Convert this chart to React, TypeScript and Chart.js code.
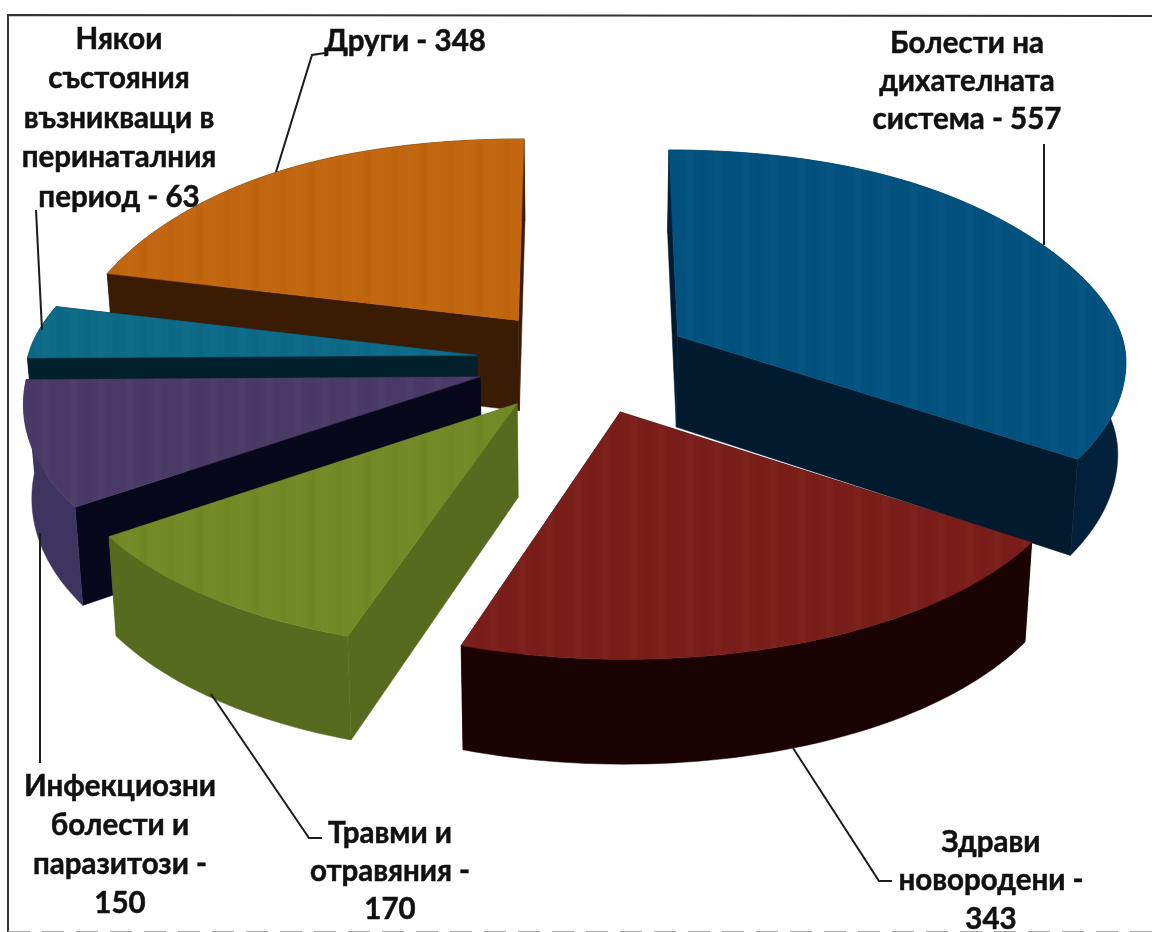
import React, { useEffect, useRef } from "react";
import { Chart, registerables } from "chart.js";

Chart.register(...registerables);

const categories = [
  "Болести на\nдихателната\nсистема",
  "Здрави\nновородени",
  "Травми и\nотравяния",
  "Инфекциозни\nболести и\nпаразитози",
  "Някои\nсъстояния\nвъзникващи в\nперинаталния\nпериод",
  "Други",
];
const values = [557, 343, 170, 150, 63, 348];
const topColors = ["#02527F", "#7A1E1A", "#738A27", "#4A3B66", "#0D6A88", "#C2660F"];
const cutColors = ["#021A2E", "#1A0302", "#566B1E", "#08081C", "#02202C", "#3A1C04"];
const outerColors = ["#03203A", "#1A0302", "#566B1E", "#3D3560", "#02202C", "#3A1C04"];

const labelCenters = [
  [967, 43], [991, 842], [390, 833], [120, 786], [119, 39], [405, 41],
];
const labelLineGaps = [38, 38.5, 38, 39, 39.5, 38];
const leaderPaths = [
  [[1044, 144], [1044, 245]],
  [[793, 748], [879, 881], [892, 881]],
  [[211, 694], [309, 838], [322, 838]],
  [[40, 533], [40, 763]],
  [[36, 210], [42, 330]],
  [[325, 53], [312, 55], [276, 172]],
];

const view = { cx: 584, cy: 361, a: 450, b: 220, k: 0.1, h: 92, shrink: 0.015, back: 0.035, front: 0.02, side: 0.134 };

function labelLines(i: number): string[] {
  const lines = categories[i].split("\n");
  const last = lines.pop() as string;
  const joined = `${last} - ${values[i]}`;
  if (joined.length > 13) lines.push(`${last} -`, String(values[i]));
  else lines.push(joined);
  return lines;
}

function project(x: number, y: number, z: number): [number, number] {
  const w = 1 / (1 - view.k * y);
  const soft = 1 - (y < 0 ? view.back : view.front) * y * y;
  const side = y < 0 ? 1 - view.side * y * y * Math.max(0, 1.15 + y) : 1;
  return [
    view.cx + view.a * x * w * side * (1 - view.shrink * z),
    view.cy + view.b * y * w * soft + view.h * z * w,
  ];
}

function fillPoly(ctx: CanvasRenderingContext2D, poly: [number, number][], color: string) {
  ctx.beginPath();
  poly.forEach((pt, idx) => (idx ? ctx.lineTo(pt[0], pt[1]) : ctx.moveTo(pt[0], pt[1])));
  ctx.closePath();
  ctx.fillStyle = color;
  ctx.strokeStyle = color;
  ctx.lineWidth = 0.5;
  ctx.fill();
  ctx.stroke();
}

const pie3d = {
  id: "pie3d",
  beforeDatasetDraw(chart: any, args: any) {
    const ctx: CanvasRenderingContext2D = chart.ctx;
    const meta = chart.getDatasetMeta(args.index);
    const arcs = meta.data.map((arc: any, i: number) => {
      const s = arc.startAngle;
      const e = arc.endAngle;
      const mid = (s + e) / 2;
      const off = arc.options.offset / arc.outerRadius;
      const ox = Math.cos(mid) * off;
      const oy = Math.sin(mid) * off;
      const rim: [number, number][] = [];
      const n = Math.max(8, Math.round((e - s) * 40));
      for (let j = 0; j <= n; j++) {
        const t = s + ((e - s) * j) / n;
        rim.push([ox + Math.cos(t), oy + Math.sin(t)]);
      }
      return { i, apex: [ox, oy] as [number, number], rim, depth: Math.sin(mid), fill: arc.options.backgroundColor };
    });
    arcs.sort((p: any, q: any) => p.depth - q.depth);
    ctx.save();
    for (const slice of arcs) {
      const rim: [number, number][] = slice.rim;
      const apex: [number, number] = slice.apex;
      const first = rim[0];
      const last = rim[rim.length - 1];
      const wall = (pts: [number, number][]) => [
        ...pts.map((p) => project(p[0], p[1], 0)),
        ...pts.slice().reverse().map((p) => project(p[0], p[1], 1)),
      ];
      const avg = (pts: [number, number][]) => pts.reduce((a, p) => a + p[1], 0) / pts.length;
      const faces = [
        { y: avg([apex, first]), poly: wall([apex, first]), c: cutColors[slice.i] },
        { y: avg([apex, last]), poly: wall([apex, last]), c: cutColors[slice.i] },
        { y: avg(rim), poly: wall(rim), c: outerColors[slice.i] },
      ];
      faces.sort((p, q) => p.y - q.y);
      faces.forEach((f) => fillPoly(ctx, f.poly, f.c));

      const top = [apex, ...rim].map((p) => project(p[0], p[1], 0));
      fillPoly(ctx, top, slice.fill);
      ctx.save();
      ctx.beginPath();
      top.forEach((pt, idx) => (idx ? ctx.lineTo(pt[0], pt[1]) : ctx.moveTo(pt[0], pt[1])));
      ctx.closePath();
      ctx.clip();
      for (let x = 0; x < chart.width; x += 14) {
        ctx.fillStyle = x % 28 ? "rgba(255,255,255,0.014)" : "rgba(0,0,0,0.014)";
        ctx.fillRect(x, 0, 7, chart.height);
      }
      ctx.restore();
    }
    ctx.restore();
    return false;
  },
  afterDatasetsDraw(chart: any) {
    const ctx: CanvasRenderingContext2D = chart.ctx;
    ctx.save();
    ctx.strokeStyle = "#1c1c1c";
    ctx.lineWidth = 2;
    for (const path of leaderPaths) {
      ctx.beginPath();
      path.forEach((pt, idx) => (idx ? ctx.lineTo(pt[0], pt[1]) : ctx.moveTo(pt[0], pt[1])));
      ctx.stroke();
    }
    ctx.font = "bold 29.5px Lato";
    ctx.fillStyle = "#111";
    ctx.strokeStyle = "#111";
    ctx.lineWidth = 0.5;
    ctx.textAlign = "center";
    ctx.textBaseline = "middle";
    categories.forEach((_, i) => {
      labelLines(i).forEach((line, j) => {
        const x = labelCenters[i][0];
        const y = labelCenters[i][1] + j * labelLineGaps[i];
        ctx.fillText(line, x, y);
        ctx.strokeText(line, x, y);
      });
    });
    ctx.strokeStyle = "#333";
    ctx.lineWidth = 2;
    ctx.beginPath();
    ctx.moveTo(8, 932);
    ctx.lineTo(8, 15);
    ctx.lineTo(1152, 16);
    ctx.stroke();
    ctx.strokeStyle = "#aaa";
    ctx.lineWidth = 1;
    ctx.setLineDash([22, 12]);
    ctx.beginPath();
    ctx.moveTo(8, 931.5);
    ctx.lineTo(1152, 931.5);
    ctx.stroke();
    ctx.restore();
  },
};

export default function App() {
  const ref = useRef<HTMLCanvasElement>(null);
  useEffect(() => {
    document.body.style.margin = "0";
    document.body.style.overflow = "hidden";
    const chart = new Chart(ref.current as HTMLCanvasElement, {
      type: "pie",
      data: {
        labels: categories.map((c) => c.replace(/\n/g, " ")),
        datasets: [
          {
            data: values,
            backgroundColor: topColors,
            borderWidth: 0,
            offset: 96,
            radius: 400,
          } as any,
        ],
      },
      options: {
        responsive: false,
        animation: false,
        rotation: 0,
        plugins: { legend: { display: false }, tooltip: { enabled: false } },
      },
      plugins: [pie3d as any],
    });
    return () => chart.destroy();
  }, []);
  return <canvas ref={ref} width={1152} height={932} style={{ display: "block", background: "#fff" }} />;
}
